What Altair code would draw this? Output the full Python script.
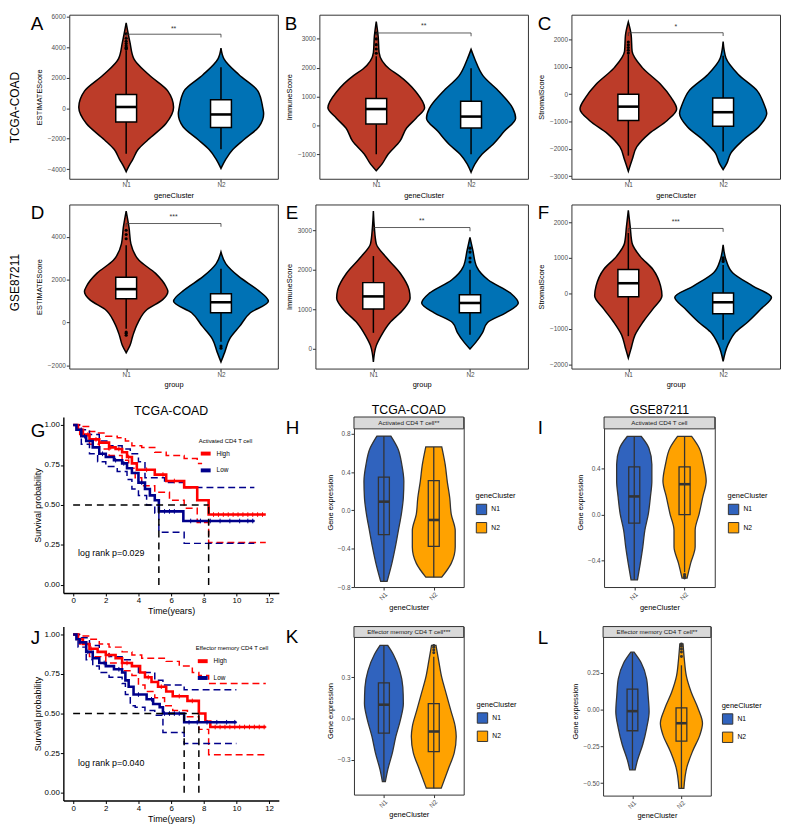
import altair as alt
import pandas as pd

FONT = "Liberation Sans"
RED, BLUE = "#BC3C29", "#0072B5"
VBLUE, VORANGE = "#3063BE", "#FFA200"
KM_RED, KM_NAVY = "#FF0000", "#00008B"

# ---------------- top violins (value levels, half-widths in category units) ----------------
A_N1_Y = [5615, 4333, 3265, 2196, 1128, 59, -1010, -2078, -2720, -3361, -3788, -4172]
A_N1_W = [0, .04, .08, .24, .44, .50, .42, .23, .125, .07, .03, 0]
A_N2_Y = [3948, 3265, 2196, 1128, 59, -368, -1223, -2078, -2720, -3361, -3958]
A_N2_W = [0, .03, .19, .39, .44, .45, .40, .24, .125, .05, 0]
A_BOX1 = [-900, 80, 900, -3000, 3800]
A_BOX2 = [-1266, -411, 551, -2700, 2700]
A_OUT1 = [3900, 3950, 4000, 4100, 4250, 4400, 4600, 4900]
A_OUT2 = []

B_N1_Y = [3603, 3091, 2522, 1954, 1727, 1158, 612, 249, -93, -547, -1002, -1343, -1570]
B_N1_W = [0, .02, .03, .14, .24, .42, .51, .42, .32, .25, .125, .06, 0]
B_N2_Y = [2636, 2295, 1727, 1158, 590, 249, -206, -661, -1002, -1343, -1627]
B_N2_W = [0, .04, .125, .30, .44, .47, .35, .23, .115, .04, 0]
B_BOX1 = [44, 567, 931, -1002, 2400]
B_BOX2 = [-93, 305, 840, -1002, 1977]
B_OUT1 = [2500, 2650, 2800, 3000, 3200]
B_OUT2 = []

C_N1_Y = [2636, 2156, 1556, 956, 356, -124, -544, -964, -1444, -1924, -2404, -2824]
C_N1_W = [0, .03, .04, .15, .34, .45, .51, .41, .22, .09, .04, 0]
C_N2_Y = [1916, 1316, 716, 116, -364, -700, -1204, -1684, -2164, -2524, -2764]
C_N2_W = [0, .03, .16, .36, .43, .46, .375, .21, .08, .04, 0]
C_BOX1 = [-964, -460, -4, -2250, 1450]
C_BOX2 = [-1180, -664, -148, -2100, 1400]
C_OUT1 = [1500, 1600, 1700, 1800, 1900]
C_OUT2 = []

D_N1_Y = [5193, 4428, 3663, 2898, 2286, 1674, 1445, 1062, 603, -9, -621, -1080, -1416]
D_N1_W = [0, .03, .05, .135, .31, .42, .44, .385, .22, .125, .07, .04, 0]
D_N2_Y = [3281, 2745, 2133, 1521, 986, 450, -162, -774, -1386, -1845]
D_N2_W = [0, .05, .19, .385, .50, .31, .20, .09, .04, 0]
D_BOX1 = [1108, 1552, 2103, -300, 3600]
D_BOX2 = [450, 940, 1338, -900, 2500]
D_OUT1 = [3900, 4100, 4300, -450, -500, -600]
D_OUT2 = [-1100, -1200]

E_N1_Y = [3492, 3075, 2658, 2325, 1908, 1492, 1283, 992, 658, 325, 75, -342]
E_N1_W = [0, .01, .03, .13, .28, .37, .38, .31, .17, .08, .03, 0]
E_N2_Y = [2825, 2492, 2075, 1742, 1408, 1158, 908, 658, 408, 158, -8]
E_N2_W = [0, .03, .07, .19, .42, .50, .37, .18, .13, .06, 0]
E_BOX1 = [1008, 1325, 1675, 400, 2350]
E_BOX2 = [908, 1158, 1367, 350, 2000]
E_OUT1 = []
E_OUT2 = [2200, 2300, 2450, 2550]

F_N1_Y = [2332, 1871, 1410, 1041, 673, 212, -65, -433, -802, -1171, -1539, -1816]
F_N1_W = [0, .02, .04, .125, .26, .34, .355, .26, .155, .07, .03, 0]
F_N2_Y = [1364, 949, 581, 212, -111, -433, -802, -1079, -1447, -1908]
F_N2_W = [0, .03, .10, .31, .51, .40, .26, .135, .05, 0]
F_BOX1 = [-92, 286, 673, -1200, 1700]
F_BOX2 = [-572, -249, 9, -1300, 800]
F_OUT1 = []
F_OUT2 = [900, 950, 1000]

# significance bracket: [line y, tick end y, label y]
A_BR = [4867, 4654, 5230]
B_BR = [3205, 3091, 3450]
C_BR = [2240, 2120, 2450]
D_BR = [4612, 4460, 4900]
E_BR = [3075, 2980, 3230]
F_BR = [1825, 1730, 2000]

# ---------------- bottom violins ----------------
H_N1_Y = [0.776, 0.646, 0.475, 0.303, 0.132, -0.039, -0.211, -0.382, -0.553, -0.74]
H_N1_W = [0.14, 0.28, 0.36, 0.40, 0.39, 0.35, 0.29, 0.23, 0.16, 0.065]
H_N2_Y = [0.663, 0.475, 0.303, 0.132, -0.039, -0.211, -0.382, -0.553, -0.697]
H_N2_W = [0.16, 0.23, 0.27, 0.32, 0.35, 0.43, 0.43, 0.35, 0.16]
H_BOX1 = [-0.252, 0.091, 0.348, -0.74, 0.776]
H_BOX2 = [-0.375, -0.10, 0.31, -0.697, 0.663]

I_N1_Y = [0.677, 0.577, 0.434, 0.291, 0.149, 0.006, -0.137, -0.28, -0.423, -0.566]
I_N1_W = [0.14, 0.29, 0.35, 0.35, 0.32, 0.28, 0.21, 0.17, 0.12, 0.064]
I_N2_Y = [0.677, 0.577, 0.434, 0.291, 0.149, 0.006, -0.137, -0.28, -0.423, -0.551]
I_N2_W = [0.14, 0.29, 0.38, 0.43, 0.36, 0.29, 0.21, 0.21, 0.12, 0.05]
I_BOX1 = [-0.074, 0.157, 0.414, -0.566, 0.677]
I_BOX2 = [0.0, 0.263, 0.414, -0.50, 0.677]
I_OUT2 = [-0.52, -0.535, -0.55]

K_N1_Y = [0.533, 0.467, 0.348, 0.229, 0.11, -0.01, -0.129, -0.248, -0.367, -0.457]
K_N1_W = [0.077, 0.19, 0.32, 0.38, 0.39, 0.33, 0.24, 0.17, 0.08, 0.03]
K_N2_Y = [0.533, 0.419, 0.3, 0.181, 0.062, -0.057, -0.129, -0.248, -0.367, -0.505]
K_N2_W = [0.045, 0.10, 0.16, 0.25, 0.34, 0.43, 0.45, 0.41, 0.29, 0.15]
K_BOX1 = [-0.105, 0.102, 0.26, -0.457, 0.533]
K_BOX2 = [-0.24, -0.093, 0.11, -0.505, 0.45]
K_OUT2 = [0.48, 0.50, 0.52, 0.533]

L_N1_Y = [0.389, 0.316, 0.206, 0.095, -0.015, -0.126, -0.237, -0.347, -0.409]
L_N1_W = [0.033, 0.18, 0.29, 0.32, 0.34, 0.29, 0.21, 0.10, 0.055]
L_N2_Y = [0.445, 0.338, 0.228, 0.117, 0.007, -0.093, -0.17, -0.281, -0.392, -0.535]
L_N2_W = [0.033, 0.06, 0.10, 0.20, 0.34, 0.43, 0.38, 0.23, 0.11, 0.05]
L_BOX1 = [-0.144, -0.011, 0.139, -0.409, 0.389]
L_BOX2 = [-0.214, -0.093, 0.011, -0.535, 0.30]
L_OUT2 = [0.36, 0.39, 0.41, 0.43, 0.445]

# ---------------- Kaplan-Meier curves ----------------
G_HI_T = [0, 0.3, 0.6, 1.0, 1.6, 2.2, 2.6, 3.0, 3.3, 3.6, 3.9, 5.0, 5.7, 6.8, 7.6, 8.3, 11.8]
G_HI_S = [1.0, 0.97, 0.94, 0.91, 0.89, 0.86, 0.85, 0.83, 0.80, 0.76, 0.72, 0.69, 0.65, 0.61, 0.53, 0.44, 0.44]
G_LO_T = [0, 0.2, 0.5, 0.8, 1.2, 1.6, 2.0, 2.5, 3.0, 3.3, 3.6, 4.0, 4.4, 4.7, 5.0, 5.25, 6.75, 11.1]
G_LO_S = [1.0, 0.97, 0.93, 0.90, 0.86, 0.82, 0.80, 0.78, 0.76, 0.73, 0.70, 0.64, 0.60, 0.56, 0.53, 0.46, 0.40, 0.40]
G_HI_UP_T = [0, 0.5, 1.0, 1.5, 2.0, 2.7, 3.2, 3.6, 4.2, 5.0, 5.7, 6.8, 7.6, 7.9]
G_HI_UP_S = [1.0, 0.99, 0.96, 0.95, 0.93, 0.92, 0.90, 0.87, 0.86, 0.83, 0.81, 0.79, 0.76, 0.76]
G_HI_LW_T = [0, 0.4, 1.0, 1.6, 2.2, 3.0, 3.4, 3.8, 4.2, 5.0, 5.9, 6.8, 7.6, 8.3, 11.8]
G_HI_LW_S = [1.0, 0.94, 0.88, 0.85, 0.81, 0.78, 0.73, 0.67, 0.62, 0.58, 0.53, 0.48, 0.39, 0.265, 0.265]
G_LO_UP_T = [0, 0.5, 1.0, 1.6, 2.2, 3.0, 3.5, 4.0, 4.4, 5.6, 6.8, 11.1]
G_LO_UP_S = [1.0, 0.97, 0.94, 0.90, 0.87, 0.85, 0.82, 0.77, 0.67, 0.64, 0.61, 0.61]
G_LO_LW_T = [0, 0.5, 1.0, 1.5, 2.0, 2.7, 3.3, 3.6, 4.0, 4.5, 5.0, 5.25, 6.8, 11.1]
G_LO_LW_S = [1.0, 0.88, 0.82, 0.77, 0.74, 0.71, 0.66, 0.60, 0.56, 0.50, 0.45, 0.33, 0.26, 0.26]
G_CEN_HI = [0.9, 1.4, 2.3, 2.8, 3.4, 4.5, 5.5, 6.2, 8.6, 8.9, 9.2, 9.5, 9.8, 10.1, 10.4, 10.7, 11.0, 11.3, 11.6]
G_CEN_LO = [0.7, 1.8, 2.6, 3.1, 4.2, 5.6, 5.9, 6.2, 7.2, 7.8, 8.4, 9.0, 9.6, 10.2, 10.7, 11.0]
G_MED = [5.25, 8.3]

J_HI_T = [0, 0.3, 0.6, 1.0, 1.5, 2.0, 2.6, 3.0, 3.6, 4.1, 4.4, 4.8, 5.2, 5.7, 6.1, 7.0, 7.7, 8.1, 8.4, 11.8]
J_HI_S = [1.0, 0.97, 0.94, 0.91, 0.89, 0.87, 0.85, 0.82, 0.80, 0.76, 0.73, 0.70, 0.67, 0.64, 0.61, 0.58, 0.50, 0.45, 0.415, 0.415]
J_LO_T = [0, 0.2, 0.4, 0.8, 1.2, 1.6, 2.0, 2.5, 3.0, 3.2, 3.4, 3.7, 4.5, 4.9, 5.3, 5.5, 6.8, 10.0]
J_LO_S = [1.0, 0.97, 0.95, 0.89, 0.85, 0.82, 0.80, 0.78, 0.76, 0.71, 0.67, 0.62, 0.59, 0.56, 0.54, 0.50, 0.445, 0.445]
J_HI_UP_T = [0, 0.5, 1.0, 1.6, 2.2, 3.0, 3.6, 4.2, 5.7, 6.5, 7.3, 7.7, 8.3, 11.8]
J_HI_UP_S = [1.0, 0.99, 0.97, 0.94, 0.92, 0.89, 0.87, 0.85, 0.83, 0.80, 0.76, 0.74, 0.69, 0.69]
J_HI_LW_T = [0, 0.4, 1.0, 2.0, 3.0, 3.6, 4.0, 4.4, 5.0, 5.6, 6.1, 7.0, 7.7, 8.3, 11.8]
J_HI_LW_S = [1.0, 0.94, 0.86, 0.82, 0.77, 0.74, 0.68, 0.64, 0.60, 0.55, 0.52, 0.48, 0.40, 0.24, 0.24]
J_LO_UP_T = [0, 0.5, 1.0, 1.6, 2.2, 3.0, 3.6, 4.0, 5.0, 5.5, 6.8, 10.0]
J_LO_UP_S = [1.0, 0.98, 0.93, 0.89, 0.86, 0.84, 0.80, 0.76, 0.71, 0.68, 0.65, 0.65]
J_LO_LW_T = [0, 0.3, 0.8, 1.2, 1.6, 2.2, 3.0, 3.2, 3.5, 3.8, 4.4, 5.0, 5.5, 6.8, 10.0]
J_LO_LW_S = [1.0, 0.92, 0.84, 0.80, 0.76, 0.73, 0.69, 0.62, 0.55, 0.54, 0.52, 0.49, 0.38, 0.31, 0.31]
J_CEN_HI = [1.1, 2.2, 3.3, 4.6, 5.4, 6.5, 7.3, 8.7, 9.0, 9.3, 9.6, 9.9, 10.2, 10.5, 10.8, 11.1, 11.4, 11.7]
J_CEN_LO = [0.9, 1.9, 2.8, 4.0, 4.8, 5.6, 5.9, 6.2, 6.5, 7.1, 7.6, 8.2, 8.8, 9.4, 9.9]
J_MED = [6.8, 7.7]

GROUPS = ["N1", "N2"]
KM_GROUPS = ["High", "Low"]

# ---------------- styles ----------------
TOP_AX = dict(labelColor="#4D4D4D", labelFontSize=6.5, labelFont=FONT, titleFont=FONT,
              titleFontSize=7.5, titleColor="black", titleFontWeight="normal", tickColor="#333333",
              tickSize=3, domain=False, grid=False, labelPadding=1, titlePadding=4)
KM_AX = dict(labelColor="black", labelFontSize=8, labelFont=FONT, titleFont=FONT,
             titleFontSize=9, titleColor="black", titleFontWeight="normal", tickColor="black",
             tickSize=3, domain=True, domainColor="black", domainWidth=1.4, grid=False,
             labelPadding=1, titlePadding=2)
FRAME = alt.ViewBackground(stroke="#333333", strokeWidth=1)
NOFRAME = alt.ViewBackground(stroke=None)
SPD = pd.DataFrame({"v": [0]})


def ann(txt, x, y, size, align="left", baseline="alphabetic", angle=0, color="black"):
    kw = dict(font=FONT, fontSize=size, align=align, baseline=baseline, color=color)
    if angle:
        kw["angle"] = angle
    return alt.Chart(pd.DataFrame({"t": [txt]})).mark_text(**kw).encode(
        text="t:N", x=alt.value(x), y=alt.value(y))


def tag(letter, x, cap_top):
    # panel tag: cap top placed at cap_top (px from the top of the panel)
    return ann(letter, x, cap_top - 1.4, 19, "left", "top")


def strip_layers(label, width, sh):
    base = alt.Chart(pd.DataFrame({"label": [label]}))
    rect = base.mark_rect(fill="#D9D9D9", stroke="#333333", strokeWidth=1).encode(
        x=alt.value(0), x2=alt.value(width), y=alt.value(0), y2=alt.value(sh))
    txt = base.mark_text(font=FONT, fontSize=6.3, color="#1A1A1A", baseline="middle").encode(
        text="label:N", x=alt.value(width / 2), y=alt.value(sh / 2 + 0.3))
    return [rect, txt]


def vdf(pos, ys, ws, grp):
    pairs = sorted(zip(ys, ws))
    return pd.DataFrame({"y": [p[0] for p in pairs], "lo": [pos - p[1] for p in pairs],
                         "hi": [pos + p[1] for p in pairs], "grp": grp})


def box_df(b1, b2, bw):
    return pd.DataFrame({"pos": [1, 2], "q1": [b1[0], b2[0]], "med": [b1[1], b2[1]],
                         "q3": [b1[2], b2[2]], "lo": [b1[3], b2[3]], "hi": [b1[4], b2[4]],
                         "l": [1 - bw, 2 - bw], "r": [1 + bw, 2 + bw]})


def top_panel(extra, ytitle, xtitle, ydom, yticks, n1y, n1w, n2y, n2w, b1, b2, o1, o2,
              br, star, width, height):
    xs = alt.Scale(domain=[0.4, 2.6], nice=False, zero=False)
    ysc = alt.Scale(domain=ydom, nice=False, zero=False)
    xax = alt.Axis(values=[1, 2], labelExpr="datum.value == 1 ? 'N1' : 'N2'", title=xtitle,
                   **dict(TOP_AX, labelPadding=0, titlePadding=3))
    yax = alt.Axis(values=yticks, title=ytitle, format="d", **TOP_AX)

    def X(f):
        return alt.X(f, type="quantitative", scale=xs, axis=xax)

    def Y(f):
        return alt.Y(f, type="quantitative", scale=ysc, axis=yax)

    layers = []
    for pos, ys, ws, col in [(1, n1y, n1w, RED), (2, n2y, n2w, BLUE)]:
        layers.append(alt.Chart(vdf(pos, ys, ws, GROUPS[pos - 1])).mark_area(
            orient="horizontal", fill=col, stroke="black", strokeWidth=1.5,
            interpolate="monotone").encode(y=Y("y"), x=X("lo"), x2="hi"))
    bd = box_df(b1, b2, 0.11)
    layers.append(alt.Chart(bd).mark_rule(color="black", strokeWidth=1.5).encode(
        x=X("pos"), y=Y("lo"), y2="hi"))
    outs = pd.DataFrame({"pos": [1] * len(o1) + [2] * len(o2), "v": list(o1) + list(o2)})
    if len(outs):
        layers.append(alt.Chart(outs).mark_circle(color="black", size=10, opacity=1).encode(
            x=X("pos"), y=Y("v")))
    layers.append(alt.Chart(bd).mark_rect(fill="white", stroke="black", strokeWidth=1.5).encode(
        x=X("l"), x2="r", y=Y("q1"), y2="q3"))
    layers.append(alt.Chart(bd).mark_rule(color="black", strokeWidth=2.6).encode(
        x=X("l"), x2="r", y=Y("med")))
    brd = pd.DataFrame({"xa": [1], "xb": [2], "y": [br[0]], "xm": [1.5], "ty": [br[2]], "t": [star]})
    tk = pd.DataFrame({"pos": [1, 2], "y": [br[0]] * 2, "yd": [br[1]] * 2})
    layers.append(alt.Chart(brd).mark_rule(color="#333333", strokeWidth=0.8).encode(
        x=X("xa"), x2="xb", y=Y("y")))
    layers.append(alt.Chart(tk).mark_rule(color="#333333", strokeWidth=0.8).encode(
        x=X("pos"), y=Y("y"), y2="yd"))
    layers.append(alt.Chart(brd).mark_text(font=FONT, fontSize=7, color="#333333").encode(
        x=X("xm"), y=Y("ty"), text="t:N"))
    return alt.layer(*layers, *extra).properties(width=width, height=height, view=FRAME)


def step_at(ts, ss, t):
    v = ss[0]
    for tt, s in zip(ts, ss):
        if tt <= t:
            v = s
    return v


def km_panel(extra, hiT, hiS, loT, loS, cis, cen_hi, cen_lo, med, ptxt, py, legtitle, legx, legy,
             width, height):
    xs = alt.Scale(domain=[-0.6, 12.6], nice=False, zero=False)
    ysc = alt.Scale(domain=[-0.05, 1.05], nice=False, zero=False)
    xax = alt.Axis(values=[0, 2, 4, 6, 8, 10, 12], title="Time(years)", **KM_AX)
    yax = alt.Axis(values=[0, 0.25, 0.5, 0.75, 1.0], format=".2f", title="Survival probability", **KM_AX)

    def X(f):
        return alt.X(f, type="quantitative", scale=xs, axis=xax)

    def Y(f):
        return alt.Y(f, type="quantitative", scale=ysc, axis=yax)

    layers = []
    for t, s, col in cis:
        layers.append(alt.Chart(pd.DataFrame({"t": t, "s": s})).mark_line(
            interpolate="step-after", color=col, strokeDash=[7, 4], strokeWidth=1.5).encode(
            x=X("t"), y=Y("s")))
    main = pd.concat([pd.DataFrame({"t": hiT, "s": hiS, "grp": "High"}),
                      pd.DataFrame({"t": loT, "s": loS, "grp": "Low"})])
    layers.append(alt.Chart(main).mark_line(interpolate="step-after", strokeWidth=2.6).encode(
        x=X("t"), y=Y("s"),
        color=alt.Color("grp:N", scale=alt.Scale(domain=KM_GROUPS, range=[KM_RED, KM_NAVY]),
                        legend=alt.Legend(title=legtitle, orient="none", legendX=legx, legendY=legy,
                                          symbolType="stroke", symbolStrokeWidth=4, symbolSize=100,
                                          labelFont=FONT, labelFontSize=6.5, titleFont=FONT,
                                          titleFontSize=6, titleFontWeight="normal",
                                          titleColor="black", labelColor="black",
                                          rowPadding=1, titlePadding=3))))
    for times, ts, ss, col in [(cen_hi, hiT, hiS, KM_RED), (cen_lo, loT, loS, KM_NAVY)]:
        cd = pd.DataFrame({"t": times, "s": [step_at(ts, ss, t) for t in times]})
        layers.append(alt.Chart(cd).mark_point(shape="M-1,0H1M0,-1V1", size=22, filled=False,
                                               color=col, strokeWidth=1, opacity=1).encode(
            x=X("t"), y=Y("s")))
    hm = pd.DataFrame({"a": [0], "b": [max(med)], "y": [0.5]})
    vm = pd.DataFrame({"t": med, "y0": [0] * len(med), "y1": [0.5] * len(med)})
    layers.append(alt.Chart(hm).mark_rule(color="black", strokeDash=[7, 5], strokeWidth=1.5).encode(
        x=X("a"), x2="b", y=Y("y")))
    layers.append(alt.Chart(vm).mark_rule(color="black", strokeDash=[7, 5], strokeWidth=1.5).encode(
        x=X("t"), y=Y("y0"), y2="y1"))
    pt = pd.DataFrame({"t": [0.3], "s": [py], "txt": [ptxt]})
    layers.append(alt.Chart(pt).mark_text(font=FONT, fontSize=9, align="left", baseline="middle",
                                          color="black").encode(x=X("t"), y=Y("s"), text="txt:N"))
    return alt.layer(*layers, *extra).properties(width=width, height=height, view=NOFRAME)


def bot_panel(label, sh, extra, n1y, n1w, n2y, n2w, b1, b2, o2, ydom, yticks, yfmt, width, height,
              legx, legy):
    # the strip sits inside the framed area: extend the value domain upward by the strip height
    ppu = height / (ydom[1] - ydom[0])
    xs = alt.Scale(domain=[0.4, 2.6], nice=False, zero=False)
    ysc = alt.Scale(domain=[ydom[0], ydom[1] + sh / ppu], nice=False, zero=False)
    xax = alt.Axis(values=[1, 2], labelExpr="datum.value == 1 ? 'N1' : 'N2'", title="geneCluster",
                   labelAngle=-45, **dict(TOP_AX, titlePadding=2))
    yax = alt.Axis(values=yticks, title="Gene expression", format=yfmt, **dict(TOP_AX, titlePadding=3))

    def X(f):
        return alt.X(f, type="quantitative", scale=xs, axis=xax)

    def Y(f):
        return alt.Y(f, type="quantitative", scale=ysc, axis=yax)

    vd = pd.concat([vdf(1, n1y, n1w, "N1"), vdf(2, n2y, n2w, "N2")])
    layers = [alt.Chart(vd).mark_area(orient="horizontal", stroke="#333333", strokeWidth=1.3,
                                      interpolate="monotone", opacity=1).encode(
        y=Y("y"), x=X("lo"), x2="hi",
        color=alt.Color("grp:N", scale=alt.Scale(domain=GROUPS, range=[VBLUE, VORANGE]),
                        legend=alt.Legend(title="geneCluster", orient="none", legendX=legx,
                                          legendY=legy, symbolType="square", symbolSize=110,
                                          symbolStrokeColor="#333333", symbolStrokeWidth=1,
                                          labelFont=FONT, labelFontSize=6.8, titleFont=FONT,
                                          titleFontSize=7.5, titleFontWeight="normal",
                                          titleColor="black", labelColor="black",
                                          rowPadding=2.5, titlePadding=4)))]
    bd = box_df(b1, b2, 0.11)
    layers.append(alt.Chart(bd).mark_rule(color="#333333", strokeWidth=1.3).encode(
        x=X("pos"), y=Y("lo"), y2="hi"))
    if o2:
        od = pd.DataFrame({"pos": [2] * len(o2), "v": o2})
        layers.append(alt.Chart(od).mark_circle(color="#333333", size=9, opacity=1).encode(
            x=X("pos"), y=Y("v")))
    layers.append(alt.Chart(bd).mark_rect(fillOpacity=0, stroke="#333333", strokeWidth=1.3).encode(
        x=X("l"), x2="r", y=Y("q1"), y2="q3"))
    layers.append(alt.Chart(bd).mark_rule(color="#333333", strokeWidth=2.6).encode(
        x=X("l"), x2="r", y=Y("med")))
    layers += strip_layers(label, width, sh)
    return alt.layer(*layers, *extra).properties(width=width, height=height + sh, view=FRAME)


def sp(w, h):
    # invisible layout spacer (tiny, stroke-less point so it adds no extent of its own)
    return alt.Chart(SPD).mark_point(opacity=0, size=1, strokeWidth=0, filled=True).encode(
        x=alt.value(0.5), y=alt.value(h / 2)).properties(width=w, height=h, view=NOFRAME)


def indep(ch):
    return ch.resolve_scale(x="independent", y="independent", color="independent").resolve_legend(
        color="independent")


def row(*cells):
    return indep(alt.hconcat(*cells, spacing=0, bounds="flush"))


# ---------------- panels ----------------
pA = top_panel([tag("A", -39, 1.4), ann("TCGA-COAD", -55, 94, 12, "center", "middle", 270)],
               "ESTIMATEScore", "geneCluster", [-4641, 6150], [-4000, -2000, 0, 2000, 4000, 6000],
               A_N1_Y, A_N1_W, A_N2_Y, A_N2_W, A_BOX1, A_BOX2, A_OUT1, A_OUT2, A_BR, "**", 211, 166)
pB = top_panel([tag("B", -35, 1.4)], "ImmuneScore", "geneCluster", [-1853, 3839],
               [-1000, 0, 1000, 2000, 3000],
               B_N1_Y, B_N1_W, B_N2_Y, B_N2_W, B_BOX1, B_BOX2, B_OUT1, B_OUT2, B_BR, "**", 211, 166)
pC = top_panel([tag("C", -34, 1.4)], "StromalScore", "geneCluster", [-3096, 2899],
               [-3000, -2000, -1000, 0, 1000, 2000],
               C_N1_Y, C_N1_W, C_N2_Y, C_N2_W, C_BOX1, C_BOX2, C_OUT1, C_OUT2, C_BR, "*", 211, 166)
pD = top_panel([tag("D", -39, 1.4), ann("GSE87211", -55, 79, 12, "center", "middle", 270)],
               "ESTIMATEScore", "group", [-2153, 5500], [-2000, 0, 2000, 4000],
               D_N1_Y, D_N1_W, D_N2_Y, D_N2_W, D_BOX1, D_BOX2, D_OUT1, D_OUT2, D_BR, "***", 211, 166)
pE = top_panel([tag("E", -30, 1.4)], "ImmuneScore", "group", [-508, 3660], [0, 1000, 2000, 3000],
               E_N1_Y, E_N1_W, E_N2_Y, E_N2_W, E_BOX1, E_BOX2, E_OUT1, E_OUT2, E_BR, "**", 215, 166)
pF = top_panel([tag("F", -34, 1.4)], "StromalScore", "group", [-2111, 2498],
               [-2000, -1000, 0, 1000, 2000],
               F_N1_Y, F_N1_W, F_N2_Y, F_N2_W, F_BOX1, F_BOX2, F_OUT1, F_OUT2, F_BR, "***", 211, 166)

pG = km_panel([tag("G", -33, 6.3), ann("TCGA-COAD", 109, -2.5, 12.5, "center")],
              G_HI_T, G_HI_S, G_LO_T, G_LO_S,
              [(G_HI_UP_T, G_HI_UP_S, KM_RED), (G_HI_LW_T, G_HI_LW_S, KM_RED),
               (G_LO_UP_T, G_LO_UP_S, KM_NAVY), (G_LO_LW_T, G_LO_LW_S, KM_NAVY)],
              G_CEN_HI, G_CEN_LO, G_MED, "log rank p=0.029", 0.20, "Activated CD4 T cell",
              137, 21, 218, 178)
pJ = km_panel([tag("J", -33, 4)],
              J_HI_T, J_HI_S, J_LO_T, J_LO_S,
              [(J_HI_UP_T, J_HI_UP_S, KM_RED), (J_HI_LW_T, J_HI_LW_S, KM_RED),
               (J_LO_UP_T, J_LO_UP_S, KM_NAVY), (J_LO_LW_T, J_LO_LW_S, KM_NAVY)],
              J_CEN_HI, J_CEN_LO, J_MED, "log rank p=0.040", 0.19, "Effector memory CD4 T cell",
              134, 19, 218, 176)

pH = bot_panel("Activated CD4 T cell**", 12,
               [tag("H", -69, 3.7), ann("TCGA-COAD", 55.5, -3, 12.5, "center")],
               H_N1_Y, H_N1_W, H_N2_Y, H_N2_W, H_BOX1, H_BOX2, [], [-0.8, 0.851],
               [-0.8, -0.4, 0.0, 0.4, 0.8], ".1f", 111, 160, 123, 76)
pI = bot_panel("Activated CD4 T cell", 12,
               [tag("I", -67, 4), ann("GSE87211", 56, -3, 12.5, "center")],
               I_N1_Y, I_N1_W, I_N2_Y, I_N2_W, I_BOX1, I_BOX2, I_OUT2, [-0.629, 0.743],
               [-0.4, 0.0, 0.4], ".1f", 112, 160, 125, 76)
pK = bot_panel("Effector memory CD4 T cell***", 11, [tag("K", -69, 3.3)],
               K_N1_Y, K_N1_W, K_N2_Y, K_N2_W, K_BOX1, K_BOX2, K_OUT2, [-0.552, 0.591],
               [-0.3, 0.0, 0.3], ".1f", 111, 159, 124, 75)
pL = bot_panel("Effector memory CD4 T cell**", 11, [tag("L", -66, 4)],
               L_N1_Y, L_N1_W, L_N2_Y, L_N2_W, L_BOX1, L_BOX2, L_OUT2, [-0.584, 0.489],
               [-0.5, -0.25, 0.0, 0.25], ".2f", 109, 160, 120, 76)

row1 = row(sp(61, 1), pA, sp(42, 1), pB, sp(44, 1), pC)
row2 = row(sp(61, 1), pD, sp(38, 1), pE, sp(44, 1), pF)
row3 = row(sp(55, 1), pG, sp(76, 1), pH, sp(142, 1), pI)
row4 = row(sp(55, 1), pJ, sp(76, 1), pK, sp(141, 1), pL)

chart = indep(alt.vconcat(row1, sp(1, 4), row2, sp(1, 14), row3, sp(1, 10), row4, spacing=0)).properties(
    padding=0).configure(background="white").configure_view(stroke=None)

chart.save("out.html", embed_options={"renderer": "svg", "actions": False})
